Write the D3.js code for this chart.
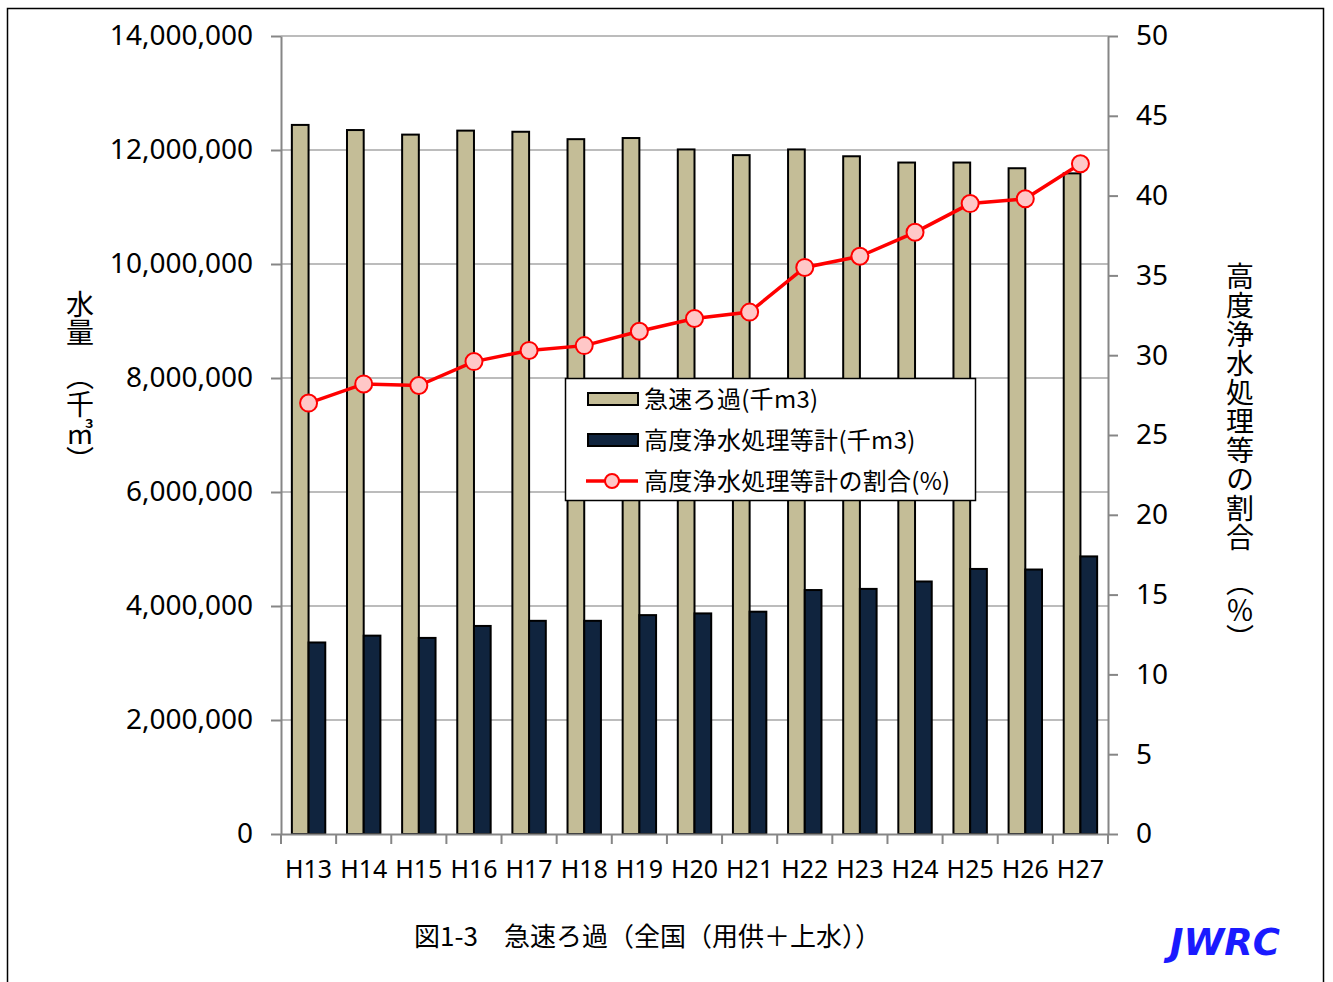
<!DOCTYPE html>
<html>
<head>
<meta charset="utf-8">
<script src="https://cdn.jsdelivr.net/npm/d3@7"></script>
<style>
  body { margin: 0; background: #fff; }
  text { font-family: "Noto Sans", "Noto Sans CJK JP", sans-serif; fill: #000; }
  .jp { font-family: "Noto Sans CJK JP", sans-serif; }
</style>
</head>
<body>
<svg id="chart" width="1333" height="982"></svg>
<script>
// data
const years = ["H13","H14","H15","H16","H17","H18","H19","H20","H21","H22","H23","H24","H25","H26","H27"];
const rapid = [12440000,12350000,12270000,12340000,12320000,12190000,12210000,12010000,11910000,12010000,11890000,11780000,11780000,11680000,11590000];
const advanced = [3360000,3480000,3440000,3650000,3740000,3740000,3840000,3870000,3900000,4280000,4300000,4430000,4650000,4640000,4870000];
const ratio = [27.0,28.2,28.1,29.6,30.3,30.6,31.5,32.3,32.7,35.5,36.2,37.7,39.5,39.8,42.0];
const leftTicks = [0,2000000,4000000,6000000,8000000,10000000,12000000,14000000];
const rightTicks = [0,5,10,15,20,25,30,35,40,45,50];
const seriesNames = ["急速ろ過(千m3)", "高度浄水処理等計(千m3)", "高度浄水処理等計の割合(%)"];

const svg = d3.select("#chart");
const m = { left: 281, right: 1108, top: 36, bottom: 834 };
const axisColor = "#868686";

// outer frame
svg.append("rect").attr("x", 7.5).attr("y", 8.5).attr("width", 1316).attr("height", 990)
  .attr("fill", "none").attr("stroke", "#000").attr("stroke-width", 1.5);

const x = d3.scaleBand().domain(years).range([m.left, m.right]).paddingInner(0).paddingOuter(0);
const sub = d3.scaleBand().domain(["rapid", "adv"]).range([0, x.bandwidth()]).paddingOuter(0.65).paddingInner(0);
const yL = d3.scaleLinear().domain([0, 14000000]).range([m.bottom, m.top]);
const yR = d3.scaleLinear().domain([0, 50]).range([m.bottom, m.top]);

// gridlines
svg.append("g").selectAll("line").data(leftTicks.slice(1)).join("line")
  .attr("x1", m.left).attr("x2", m.right)
  .attr("y1", d => yL(d)).attr("y2", d => yL(d))
  .attr("stroke", "#a6a6a6").attr("stroke-width", 1.5);

// bars
const groups = svg.append("g").selectAll("g").data(years).join("g")
  .attr("transform", d => `translate(${x(d)},0)`);
groups.append("rect")
  .attr("x", sub("rapid")).attr("width", sub.bandwidth())
  .attr("y", (d, i) => yL(rapid[i])).attr("height", (d, i) => yL(0) - yL(rapid[i]))
  .attr("fill", "#c4bd97").attr("stroke", "#000").attr("stroke-width", 2);
groups.append("rect")
  .attr("x", sub("adv")).attr("width", sub.bandwidth())
  .attr("y", (d, i) => yL(advanced[i])).attr("height", (d, i) => yL(0) - yL(advanced[i]))
  .attr("fill", "#10243e").attr("stroke", "#000").attr("stroke-width", 2);

// axes
const styleAxis = g => {
  g.selectAll("path, line").attr("stroke", axisColor).attr("stroke-width", 2);
  g.selectAll("text").attr("font-size", 28).attr("fill", "#000")
    .style("font-family", "'Noto Sans', sans-serif");
};
svg.append("g").attr("transform", `translate(${m.left},0)`)
  .call(d3.axisLeft(yL).tickValues(leftTicks).tickFormat(d3.format(",")).tickSize(10).tickSizeOuter(0).tickPadding(18))
  .call(styleAxis);
svg.append("g").attr("transform", `translate(${m.right},0)`)
  .call(d3.axisRight(yR).tickValues(rightTicks).tickSize(10).tickSizeOuter(0).tickPadding(18))
  .call(styleAxis);
const xAxis = svg.append("g").attr("transform", `translate(0,${m.bottom})`)
  .call(d3.axisBottom(x).tickSize(0).tickSizeOuter(0).tickPadding(26))
  .call(styleAxis);
xAxis.selectAll("text").attr("font-size", 25);
xAxis.selectAll("line.sep").data(d3.range(years.length + 1)).join("line").attr("class", "sep")
  .attr("x1", i => m.left + i * x.step()).attr("x2", i => m.left + i * x.step())
  .attr("y1", 0).attr("y2", 10).attr("stroke", axisColor).attr("stroke-width", 2);

// ratio line
const line = d3.line().x((d, i) => x(years[i]) + x.bandwidth() / 2).y(d => yR(d));
svg.append("path").datum(ratio).attr("d", line)
  .attr("fill", "none").attr("stroke", "#ff0000").attr("stroke-width", 3.5);
svg.append("g").selectAll("circle").data(ratio).join("circle")
  .attr("cx", (d, i) => x(years[i]) + x.bandwidth() / 2).attr("cy", d => yR(d)).attr("r", 8.5)
  .attr("fill", "#ffc7c7").attr("stroke", "#ff0000").attr("stroke-width", 2);

// legend
const lg = svg.append("g").attr("transform", "translate(565,378)");
lg.append("rect").attr("x", 0.5).attr("y", 0.5).attr("width", 410).attr("height", 122)
  .attr("fill", "#fff").attr("stroke", "#000").attr("stroke-width", 1.5);
const rowY = [21, 62, 103];
lg.append("rect").attr("x", 23).attr("y", rowY[0] - 6).attr("width", 50).attr("height", 12)
  .attr("fill", "#c4bd97").attr("stroke", "#000").attr("stroke-width", 2);
lg.append("rect").attr("x", 23).attr("y", rowY[1] - 6).attr("width", 50).attr("height", 12)
  .attr("fill", "#10243e").attr("stroke", "#000").attr("stroke-width", 2);
lg.append("line").attr("x1", 21).attr("x2", 73).attr("y1", rowY[2]).attr("y2", rowY[2])
  .attr("stroke", "#ff0000").attr("stroke-width", 3.5);
lg.append("circle").attr("cx", 47).attr("cy", rowY[2]).attr("r", 7)
  .attr("fill", "#ffc7c7").attr("stroke", "#ff0000").attr("stroke-width", 2);
lg.selectAll("text.lab").data(seriesNames).join("text").attr("class", "lab jp")
  .attr("x", 79).attr("y", (d, i) => rowY[i]).attr("dy", "0.36em")
  .attr("font-size", 24).style("letter-spacing", "0.3px").text(d => d);

// axis titles (vertical)
const vert = (sel) => sel.attr("class", "jp").attr("font-size", 28)
  .style("writing-mode", "vertical-rl").style("text-orientation", "upright");
svg.append("text").call(vert).attr("x", 80).attr("y", 290).text("水量");
svg.append("text").call(vert).attr("x", 80).attr("y", 362).text("（千㎥）");
svg.append("text").call(vert).attr("x", 1240).attr("y", 262)
  .style("letter-spacing", "1px").text("高度浄水処理等の割合");
svg.append("text").call(vert).attr("x", 1240).attr("y", 568).text("（％）");

// caption and mark
svg.append("text").attr("class", "jp").attr("x", 414).attr("y", 946)
  .attr("font-size", 26).text("図1-3　急速ろ過（全国（用供＋上水））");
svg.append("text").attr("x", 1280).attr("y", 955).attr("text-anchor", "end")
  .attr("font-size", 37).attr("font-weight", "bold").attr("font-style", "italic")
  .style("font-family", "'DejaVu Sans', sans-serif")
  .attr("fill", "#1a1aff").style("fill", "#1a1aff").text("JWRC");
</script>
</body>
</html>
